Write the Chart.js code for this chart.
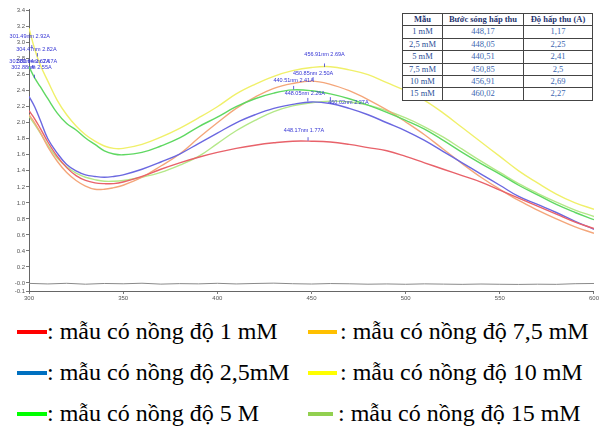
<!DOCTYPE html>
<html><head><meta charset="utf-8">
<script src="https://cdn.jsdelivr.net/npm/chart.js@4/dist/chart.umd.min.js"></script>
<style>
html,body{margin:0;padding:0;background:#fff;}
body{width:600px;height:432px;overflow:hidden;position:relative;font-family:"Liberation Serif","Times New Roman",serif;}
#wrap{position:absolute;left:0;top:0;width:600px;height:302px;}
#tbl{position:absolute;left:402px;top:13px;width:190px;border-collapse:collapse;background:#fff;font-family:"Liberation Serif",serif;font-size:8.5px;table-layout:fixed;border:1.5px solid #333;}
#tbl th,#tbl td{border:1px solid #444;padding:0;height:11.4px;line-height:11.4px;text-align:center;white-space:nowrap;overflow:hidden;}
#tbl th{color:#1f3470;font-weight:bold;font-size:8.5px;}
#tbl td{color:#3a66b0;}
#tbl td.c1{color:#2a4f98;}
.lg{position:absolute;font-size:24px;line-height:26px;color:#000;white-space:nowrap;}
.sw{position:absolute;height:4px;}
</style>
</head><body>
<div id="wrap"><canvas id="c" width="600" height="302"></canvas></div>
<table id="tbl"><colgroup><col style="width:40px"><col style="width:81px"><col style="width:69px"></colgroup>
<thead><tr id="hdr"></tr></thead><tbody id="tb"></tbody></table>
<div id="legend"></div>
<script>
// ---------- data ----------
const wavelengths = [300,303,306,310,315,320,325,330,335,340,345,350,360,370,380,390,400,410,420,430,440,450,460,470,480,490,500,510,520,530,540,550,560,570,580,590,600];
const abs1mM   = [2.15,2.05,1.93,1.76,1.58,1.44,1.34,1.28,1.25,1.24,1.24,1.26,1.33,1.42,1.50,1.57,1.63,1.68,1.72,1.75,1.77,1.77,1.76,1.73,1.69,1.65,1.58,1.50,1.42,1.34,1.26,1.16,1.06,0.96,0.86,0.76,0.68];
const abs2_5mM = [2.33,2.20,2.03,1.80,1.62,1.48,1.40,1.35,1.33,1.32,1.33,1.35,1.42,1.51,1.61,1.74,1.87,2.00,2.10,2.18,2.23,2.26,2.24,2.18,2.10,2.00,1.90,1.78,1.64,1.50,1.36,1.22,1.08,0.98,0.88,0.77,0.67];
const abs5mM   = [2.70,2.56,2.45,2.30,2.12,1.99,1.91,1.81,1.73,1.65,1.61,1.60,1.63,1.71,1.81,1.95,2.07,2.20,2.30,2.37,2.41,2.40,2.36,2.30,2.22,2.13,2.03,1.92,1.78,1.63,1.49,1.36,1.22,1.10,0.98,0.88,0.79];
const abs7_5mM = [2.10,2.00,1.88,1.70,1.52,1.38,1.28,1.21,1.17,1.17,1.19,1.22,1.32,1.46,1.61,1.81,2.00,2.18,2.32,2.43,2.49,2.52,2.48,2.40,2.29,2.16,2.01,1.85,1.67,1.49,1.32,1.17,1.03,0.91,0.80,0.70,0.62];
const abs10mM  = [3.18,2.92,2.72,2.52,2.28,2.10,1.96,1.85,1.77,1.71,1.68,1.68,1.73,1.82,1.93,2.06,2.20,2.36,2.48,2.58,2.65,2.69,2.70,2.66,2.60,2.50,2.40,2.28,2.12,1.94,1.76,1.58,1.40,1.25,1.11,1.00,0.92];
const abs15mM  = [2.08,1.98,1.87,1.72,1.56,1.45,1.37,1.32,1.29,1.27,1.27,1.28,1.32,1.38,1.47,1.58,1.74,1.90,2.03,2.14,2.21,2.25,2.27,2.26,2.22,2.15,2.06,1.95,1.82,1.67,1.52,1.38,1.24,1.12,1.01,0.91,0.83];
const baselineWl  = [300,310,320,330,340,350,360,370,380,390,400,410,420,430,440,450,460,470,480,490,500,510,520,530,540,550,560,570,580,590,600];
const baselineAbs = [-0.005,-0.012,-0.004,-0.015,-0.006,-0.010,-0.003,-0.014,-0.008,-0.011,-0.004,-0.012,-0.006,-0.002,-0.009,-0.013,-0.007,-0.010,-0.015,-0.012,-0.016,-0.011,-0.014,-0.017,-0.013,-0.016,-0.018,-0.015,-0.017,-0.009,-0.006];
const seriesNames = ["1 mM","2,5 mM","5 mM","7,5 mM","10 mM","15 mM"];
const yTickValues = [-0.1,0,0.2,0.4,0.6,0.8,1.0,1.2,1.4,1.6,1.8,2.0,2.2,2.4,2.6,2.8,3.0,3.2,3.4];
const xTickValues = [300,350,400,450,500,550,600];
// peak / point annotations
const annWl   = [456.91,450.85,440.51,448.05,460.02,448.17,301.49,304.47,301.86,302.64,302.88];
const annAbs  = [2.69,2.52,2.41,2.26,2.27,1.77,2.92,2.82,2.67,2.67,2.55];
const annText = ["456.91nm 2.69A","450.85nm 2.50A","440.51nm 2.41A","448.05nm 2.26A","460.02nm 2.27A","448.17nm 1.77A","301.49nm 2.92A","304.47nm 2.82A","301.86nm 2.67A","302.64nm 2.67A","302.88nm 2.55A"];
// table
const tblHeader = ["Mẫu","Bước sóng hấp thu","Độ hấp thu (A)"];
const tblSample = ["1 mM","2,5 mM","5 mM","7,5 mM","10 mM","15 mM"];
const tblWave   = ["448,17","448,05","440,51","450,85","456,91","460,02"];
const tblAbs    = ["1,17","2,25","2,41","2,5","2,69","2,27"];
// legend
const legendText = [": mẫu có nồng độ 1 mM",": mẫu có nồng độ 7,5 mM",": mẫu có nồng độ 2,5mM",": mẫu có nồng độ 10 mM",": mẫu có nồng độ 5 M"," : mẫu có nồng độ 15 mM"];

// ---------- styles ----------
const lineColors = ["#e8626a","#6b68e0","#5fd862","#f4a67a","#f0f06a","#b4e888"];
const legendColors = ["#ff0000","#ffc000","#0070c0","#ffff00","#00ff00","#92d050"];
const annOffsets = [[0,-10],[0,-5],[0,-7],[-3,-6],[18,4],[-4,-8],[-2,-10],[-1,-5],[-3,-5],[3,-5],[-3,-8]];

const seriesData = [abs1mM,abs2_5mM,abs5mM,abs7_5mM,abs10mM,abs15mM];
const datasets = seriesData.map((arr,i)=>({
  label: seriesNames[i],
  data: wavelengths.map((w,j)=>({x:w,y:arr[j]})),
  borderColor: lineColors[i], borderWidth:1.4, pointRadius:0, tension:0.4, fill:false
}));
datasets.unshift({label:"baseline",data:baselineWl.map((w,j)=>({x:w,y:baselineAbs[j]})),borderColor:"#8a8a8a",borderWidth:1,pointRadius:0,tension:0});

const annPlugin = {
  id:"ann",
  afterDatasetsDraw(chart){
    const ctx = chart.ctx, xs = chart.scales.x, ys = chart.scales.y;
    ctx.save();
    ctx.font = "5.5px Arial, 'Liberation Sans', sans-serif";
    ctx.textAlign = "center"; ctx.textBaseline = "bottom";
    annWl.forEach((w,i)=>{
      const px = xs.getPixelForValue(w), py = ys.getPixelForValue(annAbs[i]);
      const [dx,dy] = annOffsets[i];
      ctx.strokeStyle = "#3a3ad0"; ctx.lineWidth = 0.8;
      ctx.beginPath(); ctx.moveTo(px,py-0.5); ctx.lineTo(px,py-4); ctx.stroke();
      ctx.fillStyle = "#3434d4";
      ctx.fillText(annText[i], px+dx, py+dy);
    });
    ctx.restore();
  }
};

new Chart(document.getElementById("c"),{
  type:"line",
  data:{datasets},
  options:{
    responsive:false, animation:false, devicePixelRatio:1,
    layout:{padding:{top:9,right:4,left:0,bottom:0}},
    plugins:{legend:{display:false},tooltip:{enabled:false}},
    scales:{
      x:{type:"linear",min:300,max:600,
        afterBuildTicks:s=>{s.ticks=xTickValues.map(v=>({value:v}));},
        afterFit:s=>{s.height=11;},
        ticks:{font:{size:6,family:"Arial"},color:"#555",padding:1,maxRotation:0,autoSkip:false},
        grid:{display:true,drawOnChartArea:false,tickLength:3,color:"#777"},
        border:{display:true,color:"#666",width:1}},
      y:{type:"linear",min:-0.1,max:3.42,
        afterBuildTicks:s=>{s.ticks=yTickValues.map(v=>({value:v}));},
        afterFit:s=>{s.width=29;},
        ticks:{font:{size:6,family:"Arial"},color:"#555",padding:1,autoSkip:false,
          callback:v=>(v===0?"-0.0":Number(v).toFixed(1))},
        grid:{display:true,drawOnChartArea:false,tickLength:3,color:"#777"},
        border:{display:true,color:"#666",width:1}}
    }
  },
  plugins:[annPlugin]
});

// table
document.getElementById("hdr").innerHTML = tblHeader.map(h=>"<th>"+h+"</th>").join("");
document.getElementById("tb").innerHTML = tblSample.map((s,i)=>"<tr><td class='c1'>"+s+"</td><td>"+tblWave[i]+"</td><td>"+tblAbs[i]+"</td></tr>").join("");

// legend
const lg = document.getElementById("legend");
const rowsY = [318,359,400];
const colX = [[17,47,30],[308,340,29]];
legendText.forEach((t,i)=>{
  const r = Math.floor(i/2), c = i%2;
  const sw = document.createElement("div"); sw.className="sw";
  sw.style.left = colX[c][0]+"px"; sw.style.top = (rowsY[r]+12)+"px";
  sw.style.width = (i===5?25:colX[c][2])+"px"; sw.style.background = legendColors[i];
  lg.appendChild(sw);
  const d = document.createElement("div"); d.className="lg";
  d.style.left = (i===5?338:colX[c][1])+"px"; d.style.top = rowsY[r]+"px"; d.textContent = t;
  lg.appendChild(d);
});
</script>
</body></html>
